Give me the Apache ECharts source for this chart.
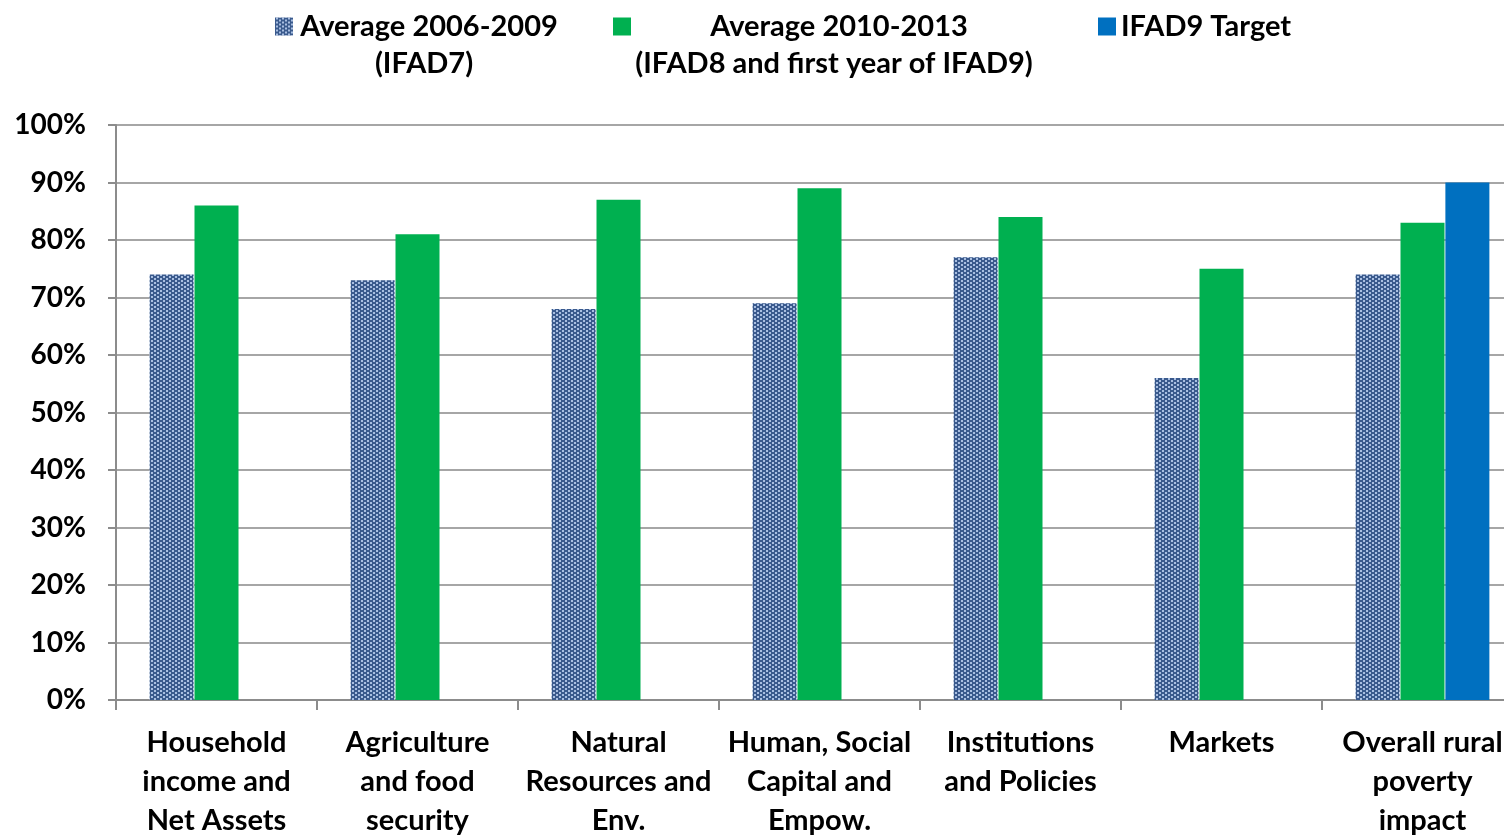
<!DOCTYPE html>
<html>
<head>
<meta charset="utf-8">
<script src="https://cdn.jsdelivr.net/npm/echarts@6/dist/echarts.min.js"></script>
<style>
  html, body { margin: 0; padding: 0; background: #fff; overflow: hidden; }
  #chart { width: 1504px; height: 835px; }
</style>
</head>
<body>
<div id="chart"></div>
<script>
// Impact domains shown along the x axis
var categories = [
  'Household\nincome and\nNet Assets',
  'Agriculture\nand food\nsecurity',
  'Natural\nResources and\nEnv.',
  'Human, Social\nCapital and\nEmpow.',
  'Institutions\nand Policies',
  'Markets',
  'Overall rural\npoverty\nimpact'
];
// Share of projects rated satisfactory (%)
var avg2006to2009 = [74, 73, 68, 69, 77, 56, 74];
var avg2010to2013 = [86, 81, 87, 89, 84, 75, 83];
var ifad9Target   = [null, null, null, null, null, null, 90];
var yTicks = [0, 10, 20, 30, 40, 50, 60, 70, 80, 90, 100];

var seriesNames = ['Average 2006-2009', 'Average 2010-2013', 'IFAD9 Target'];
var legendSubtitles = ['(IFAD7)', '(IFAD8 and first year of IFAD9)'];

// woven dot fill for the first series
function wovenPattern() {
  var c = document.createElement('canvas');
  c.width = 6; c.height = 4;
  var g = c.getContext('2d');
  g.fillStyle = '#3a5a8d';
  g.fillRect(0, 0, 6, 4);
  g.fillStyle = '#a9bfe2';
  g.fillRect(1, 0, 2, 2);
  g.fillRect(4, 2, 2, 2);
  return { image: c, repeat: 'repeat' };
}

var FONT = 'Lato';
var chart = echarts.init(document.getElementById('chart'), null, { renderer: 'canvas' });

function legendAt(name, left, boxWidth) {
  var txt = { fontFamily: FONT, fontWeight: 'bold', fontSize: 29, color: '#000' };
  return {
    data: [name],
    left: left,
    top: 7,
    icon: 'rect',
    itemWidth: 18,
    itemHeight: 18,
    selectedMode: false,
    formatter: boxWidth ? '{a|{name}}' : '{name}',
    textStyle: Object.assign({
      rich: boxWidth ? { a: Object.assign({ width: boxWidth, align: 'center' }, txt) } : {}
    }, txt)
  };
}

chart.setOption({
  animation: false,
  backgroundColor: '#fff',
  textStyle: { fontFamily: FONT },
  legend: [
    legendAt(seriesNames[0], 270, 262),
    legendAt(seriesNames[1], 608, 406),
    legendAt(seriesNames[2], 1093, 0)
  ],
  graphic: [
    { type: 'text', x: 424, y: 64, style: { text: legendSubtitles[0], font: 'bold 29px ' + FONT, fill: '#000', textAlign: 'center', textVerticalAlign: 'middle' } },
    { type: 'text', x: 834, y: 64, style: { text: legendSubtitles[1], font: 'bold 29px ' + FONT, fill: '#000', textAlign: 'center', textVerticalAlign: 'middle' } }
  ],
  grid: { left: 116, top: 125, bottom: 135, width: 1407, containLabel: false, outerBoundsMode: 'none' },
  xAxis: {
    type: 'category',
    data: categories,
    boundaryGap: true,
    axisLine: { show: true, lineStyle: { color: '#8c8c8c', width: 2 } },
    axisTick: { show: true, length: 10, lineStyle: { color: '#8c8c8c', width: 2 } },
    axisLabel: {
      interval: 0,
      margin: 23,
      color: '#000',
      fontFamily: FONT,
      fontWeight: 'bold',
      fontSize: 29,
      lineHeight: 39,
      align: 'center'
    },
    splitLine: { show: false }
  },
  yAxis: {
    type: 'value',
    min: yTicks[0],
    max: yTicks[yTicks.length - 1],
    interval: 10,
    axisLine: { show: true, lineStyle: { color: '#8c8c8c', width: 2 } },
    axisTick: { show: true, length: 8, lineStyle: { color: '#8c8c8c', width: 2 } },
    axisLabel: {
      formatter: '{value}%',
      margin: 30,
      color: '#000',
      fontFamily: FONT,
      fontWeight: 'bold',
      fontSize: 28
    },
    splitLine: { show: true, lineStyle: { color: '#a6a6a6', width: 2 } }
  },
  series: [
    {
      name: seriesNames[0],
      type: 'bar',
      data: avg2006to2009,
      barWidth: 44,
      barGap: '2%',
      itemStyle: { color: wovenPattern() }
    },
    {
      name: seriesNames[1],
      type: 'bar',
      data: avg2010to2013,
      barWidth: 44,
      barGap: '2%',
      itemStyle: { color: '#00b050' }
    },
    {
      name: seriesNames[2],
      type: 'bar',
      data: ifad9Target,
      barWidth: 44,
      barGap: '2%',
      itemStyle: { color: '#0070c0' }
    }
  ]
});
</script>
</body>
</html>
